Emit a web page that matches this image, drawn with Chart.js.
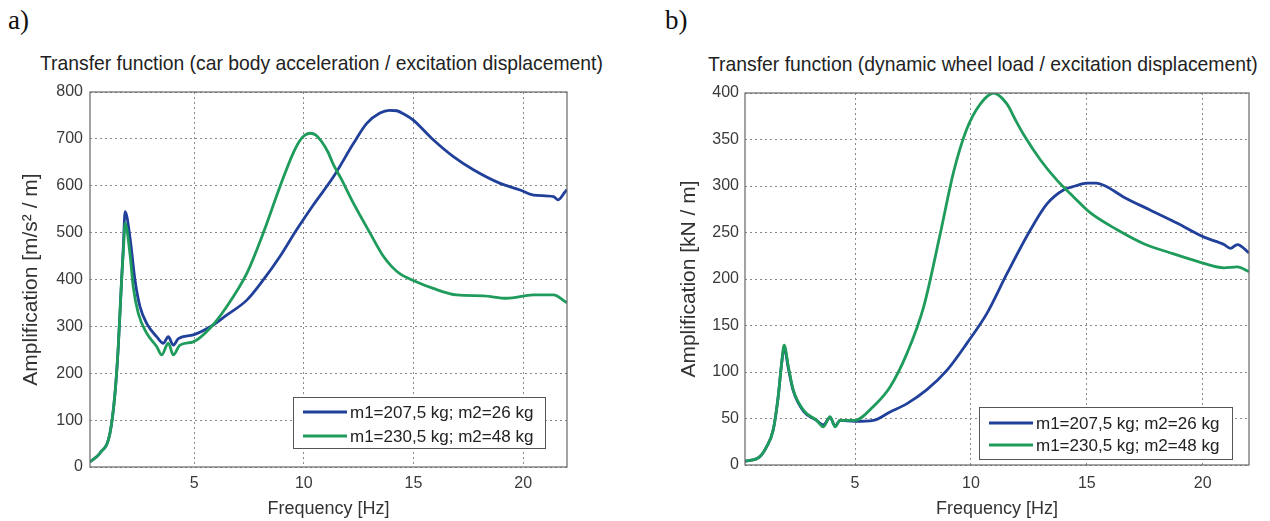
<!DOCTYPE html>
<html><head><meta charset="utf-8">
<script src="https://cdn.jsdelivr.net/npm/chart.js@4.4.1/dist/chart.umd.min.js"></script>
<style>
html,body{margin:0;padding:0;background:#fff;}
body{width:1270px;height:521px;overflow:hidden;position:relative;}
canvas{position:absolute;top:0;}
#ca{left:0;}
#cb{left:640px;}
.lab{position:absolute;font-family:'Liberation Serif','Times New Roman',serif;font-size:27px;color:#111;line-height:30px;}
.ttl{position:absolute;white-space:nowrap;color:#222;line-height:24px;font-family:'Liberation Sans',Arial,sans-serif;font-size:20px;}
</style></head>
<body>
<div class="lab" style="left:8px;top:5px">a)</div>
<div class="lab" style="left:665px;top:5px">b)</div>
<div class="ttl" id="ta" style="left:40px;top:52px">Transfer function (car body acceleration / excitation displacement)</div>
<div class="ttl" id="tb" style="left:708px;top:52px">Transfer function (dynamic wheel load / excitation displacement)</div>
<canvas id="ca" width="620" height="521"></canvas>
<canvas id="cb" width="630" height="521"></canvas>
<script>
// ---------- data ----------
const seriesLabels = ['m1=207,5 kg; m2=26 kg', 'm1=230,5 kg; m2=48 kg'];
const xTicks = [5, 10, 15, 20];
const xRange = [0.25, 22];
const yTicksA = [0, 100, 200, 300, 400, 500, 600, 700, 800];
const yTicksB = [0, 50, 100, 150, 200, 250, 300, 350, 400];

// a) car body acceleration / excitation displacement
const freqA1 = [0.25,0.71,1.16,1.39,1.54,1.69,1.77,1.85,2.07,2.3,2.53,2.84,3.29,3.6,3.82,4.05,4.28,4.96,5.87,6.48,7.4,8.15,8.91,9.67,10.43,11.35,12.26,12.87,13.47,13.9,14.24,14.6,14.99,15.9,16.82,17.73,18.95,19.86,20.47,21.38,21.6,21.91,22];
const ampA1  = [11,30,72,157,257,399,470,545,491,399,342,306,278,264,278,260,274,282,303,324,356,399,449,506,559,619,690,733,755,761,760,752,740,698,662,634,605,591,580,577,570,587,592];
const freqA2 = [0.25,0.71,1.16,1.39,1.54,1.69,1.77,1.85,2.07,2.22,2.45,2.84,3.29,3.52,3.82,4.05,4.35,4.96,5.72,6.48,7.4,8.15,8.91,9.52,9.8,10.05,10.3,10.55,10.8,11.1,11.35,11.7,12.26,13.02,13.62,14.0,14.39,14.99,15.9,16.97,18.2,19.25,20.47,21.38,21.91,22];
const ampA2  = [11,30,72,157,257,399,460,520,456,385,328,285,257,239,264,239,260,267,296,342,413,499,598,670,695,708,712,708,695,672,645,615,563,499,450,428,412,398,381,367,365,360,367,367,353,350];

// b) dynamic wheel load / excitation displacement
const freqB1 = [0.25,0.89,1.19,1.47,1.68,1.83,1.94,2.12,2.33,2.77,3.34,3.63,3.92,4.14,4.35,5.0,5.79,6.51,7.24,8.1,8.97,9.83,10.69,11.56,12.57,13.29,14.01,14.5,15.0,15.4,15.8,16.6,17.75,18.91,20.06,20.92,21.2,21.5,22];
const ampB1  = [4,9,20,38,73,109,126,104,80,58,48,43,51,42,48,47,48,57,66,81,102,131,163,206,253,281,296,300,303,303,300,288,274,260,245,237,233,237,228];
const freqB2 = [0.25,0.89,1.19,1.47,1.68,1.83,1.94,2.12,2.33,2.77,3.34,3.63,3.92,4.14,4.35,5.0,5.79,6.51,7.24,7.96,8.67,9.25,9.8,10.4,10.98,11.56,11.9,12.28,13.0,13.72,14.44,15.16,16.31,17.46,18.62,19.77,20.92,21.5,22];
const ampB2  = [4,9,20,38,73,109,129,106,81,59,48,41,52,41,48,48,63,84,120,170,248,315,360,388,400,388,372,355,328,306,288,271,253,238,228,219,212,213,208];

// ---------- styles ----------
const BLUE = '#21409a';
const GREEN = '#1f9c5c';
const SANS = "'Liberation Sans', Arial, sans-serif";

function fitTitle(id, w) {
  const el = document.getElementById(id);
  const cur = el.getBoundingClientRect().width;
  el.style.fontSize = (20 * w / cur).toFixed(2) + 'px';
}
fitTitle('ta', 563);
fitTitle('tb', 550);

const framePlugin = {
  id: 'frame',
  afterDatasetsDraw(chart) {
    const {ctx, chartArea: a} = chart;
    ctx.save();
    ctx.strokeStyle = '#666';
    ctx.lineWidth = 1.2;
    ctx.strokeRect(a.left, a.top, a.right - a.left, a.bottom - a.top);
    ctx.restore();
  }
};

const boxLegend = {
  id: 'boxLegend',
  afterDraw(chart, args, o) {
    const {ctx} = chart;
    ctx.save();
    ctx.fillStyle = '#fff';
    ctx.fillRect(o.x, o.y, o.w, o.h);
    ctx.strokeStyle = '#555';
    ctx.lineWidth = 1;
    ctx.strokeRect(o.x + 0.5, o.y + 0.5, o.w, o.h);
    ctx.font = '17px ' + SANS;
    ctx.textBaseline = 'middle';
    chart.data.datasets.forEach((ds, i) => {
      const yy = o.y + o.rows[i];
      ctx.strokeStyle = ds.borderColor;
      ctx.lineWidth = 3;
      ctx.beginPath();
      ctx.moveTo(o.x + 10, yy);
      ctx.lineTo(o.x + 54, yy);
      ctx.stroke();
      ctx.fillStyle = '#222';
      ctx.fillText(ds.label, o.x + 57, yy + 1);
    });
    ctx.restore();
  }
};

function pts(f, v) { return f.map((x, i) => ({x, y: v[i]})); }

function makeChart(id, s1, s2, yTicks, yTitle, L) {
  return new Chart(document.getElementById(id), {
    type: 'line',
    data: {
      datasets: [
        {label: seriesLabels[0], data: s1, borderColor: BLUE, borderWidth: 2.8, pointRadius: 0, cubicInterpolationMode: 'monotone', order: 1, fill: false},
        {label: seriesLabels[1], data: s2, borderColor: GREEN, borderWidth: 2.8, pointRadius: 0, cubicInterpolationMode: 'monotone', order: 0, fill: false}
      ]
    },
    options: {
      responsive: false,
      animation: false,
      devicePixelRatio: 1,
      layout: {padding: {top: L.top, right: L.right, left: 0, bottom: 0}},
      plugins: {
        legend: {display: false},
        tooltip: {enabled: false},
        boxLegend: L.legend
      },
      scales: {
        x: {
          type: 'linear',
          min: xRange[0], max: xRange[1],
          afterBuildTicks: sc => { sc.ticks = xTicks.map(v => ({value: v})); },
          afterFit: sc => { sc.height = L.xh; },
          border: {display: false, dash: [2, 3]},
          grid: {color: '#8a8a8a', lineWidth: 1, drawTicks: false},
          ticks: {color: '#3a3a3a', font: {family: SANS, size: 16}, padding: L.xpad, autoSkip: false, maxRotation: 0},
          title: {display: true, text: 'Frequency [Hz]', color: '#333', font: {family: SANS, size: 18}, padding: {top: 0, bottom: L.xtb}}
        },
        y: {
          type: 'linear',
          min: yTicks[0], max: yTicks[yTicks.length - 1],
          afterBuildTicks: sc => { sc.ticks = yTicks.map(v => ({value: v})); },
          afterFit: sc => { sc.width = L.yw; },
          border: {display: false, dash: [2, 3]},
          grid: {color: '#8a8a8a', lineWidth: 1, drawTicks: false},
          ticks: {color: '#3a3a3a', font: {family: SANS, size: 16}, padding: L.ypad},
          title: {display: true, text: yTitle, color: '#333', font: {family: SANS, size: 21}, padding: {top: L.ytp, bottom: 0}}
        }
      }
    },
    plugins: [framePlugin, boxLegend]
  });
}

makeChart('ca', pts(freqA1, ampA1), pts(freqA2, ampA2), yTicksA, 'Amplification [m/s² / m]',
  {top: 92, right: 53, xh: 54, yw: 90, xpad: 7, xtb: 1, ypad: 7, ytp: 19,
   legend: {x: 293, y: 397, w: 252, h: 51, rows: [15, 39]}});
makeChart('cb', pts(freqB1, ampB1), pts(freqB2, ampB2), yTicksB, 'Amplification [kN / m]',
  {top: 93, right: 21, xh: 56, yw: 105, xpad: 9, xtb: 1, ypad: 6, ytp: 37,
   legend: {x: 339, y: 407, w: 253, h: 52, rows: [16, 38]}});
</script>
</body></html>
